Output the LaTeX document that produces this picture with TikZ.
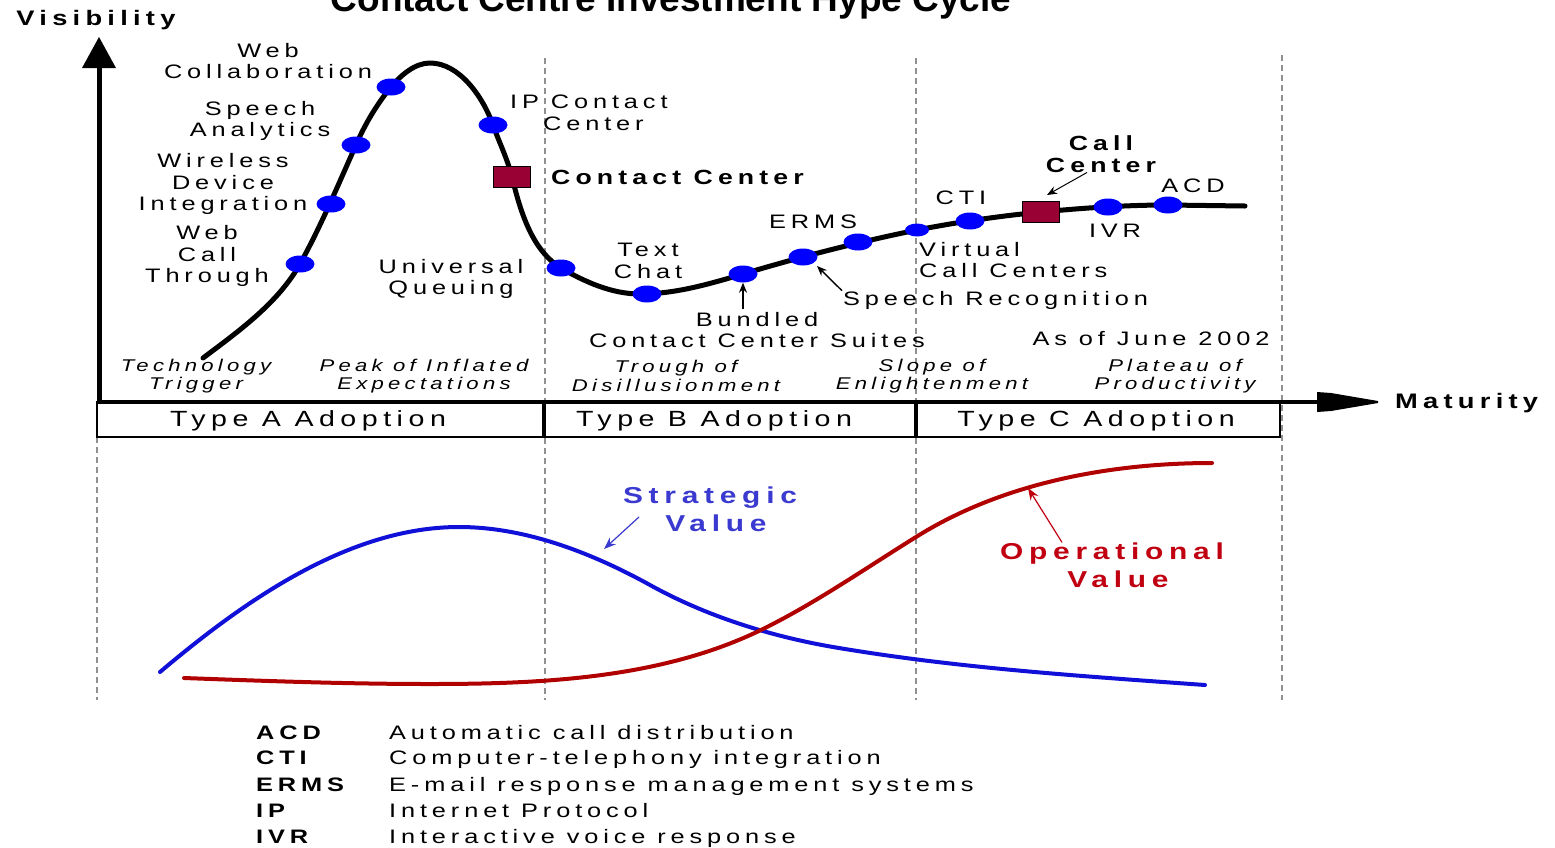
\documentclass[tikz,border=0pt]{standalone}
\usepackage{fontspec}
\setmainfont{Liberation Sans}[FakeStretch=1.3,LetterSpace=25]
\newfontfamily\titlefont{Liberation Sans}
\usetikzlibrary{shapes.geometric,arrows.meta}
\definecolor{dotblue}{HTML}{0000FF}
\definecolor{sqmaroon}{HTML}{990033}
\definecolor{curveblue}{HTML}{1010D8}
\definecolor{curvered}{HTML}{B00000}
\definecolor{stratblue}{HTML}{3A3AD0}
\definecolor{opred}{HTML}{C00010}
\definecolor{dashgray}{HTML}{909090}
\begin{document}
\begin{tikzpicture}[x=1pt,y=-1pt,
  lab/.style={inner sep=0pt, font=\fontsize{19.5}{21.5}\selectfont, align=center},
  blab/.style={inner sep=0pt, font=\bfseries\fontsize{20.5}{21.5}\selectfont, align=center},
  ilab/.style={inner sep=0pt, font=\itshape\fontsize{17}{18.5}\selectfont, align=center},
  tlab/.style={inner sep=0pt, font=\fontsize{22}{24}\selectfont},
  axlab/.style={inner sep=0pt, font=\bfseries\fontsize{21}{23}\selectfont},
  vlab/.style={inner sep=0pt, font=\bfseries\fontsize{23}{28}\selectfont, align=center},
  leglab/.style={inner sep=0pt, anchor=west, font=\fontsize{19.5}{21.5}\selectfont, text height=14pt, text depth=0pt},
  legabbr/.style={leglab, font=\bfseries\fontsize{19.5}{21.5}\selectfont},
  hdot/.style={ellipse, fill=dotblue, minimum width=29pt, minimum height=17pt, inner sep=0pt},
  hsq/.style={rectangle, fill=sqmaroon, draw=black, line width=1pt, minimum width=37pt, minimum height=21pt, inner sep=0pt},
  lblarrow/.style={-{Stealth[length=10pt,width=8pt]}, line width=1.4pt},
  gdash/.style={dashgray, line width=1.5pt, dash pattern=on 6pt off 4pt},
]
\useasboundingbox[fill=white] (0,0) rectangle (1555,847);

% title (cut at top, as in the reference)
\node[inner sep=0pt, anchor=base, font=\titlefont\bfseries\fontsize{37}{40}\selectfont] (title) at (671,11) {Contact Centre Investment Hype Cycle};

% dashed guides
\draw[gdash] (97,437) -- (97,700);
\draw[gdash] (545,58) -- (545,700);
\draw[gdash] (916,58) -- (916,700);
\draw[gdash] (1282,55) -- (1282,700);

% adoption boxes
\draw[line width=2pt] (97,402) rectangle (1280,437);
\draw[line width=4pt] (544,402) -- (544,437);
\draw[line width=4pt] (916,402) -- (916,437);
\node[tlab] (ta) at (308,421) {Type A Adoption};
\node[tlab] (tb) at (714,421) {Type B Adoption};
\node[tlab] (tcc) at (1096,421) {Type C Adoption};

% axes
\draw[line width=4pt] (97,402) -- (1320,402);
\fill (1317,392) -- (1331,393) -- (1378,401) -- (1378,403) -- (1331,411) -- (1317,412) -- cycle;
\draw[line width=5pt] (99,404) -- (99,64);
\fill (99,37) -- (116,68) -- (82,68) -- cycle;
\node[axlab] (vis) at (96,20) {Visibility};
\node[axlab, anchor=west] (mat) at (1395,403) {Maturity};

% hype curve
\draw[line width=5pt, line join=round, line cap=round]
  (203,358) .. controls (239,331) and (278,303) .. (300,264)
  .. controls (321,226) and (338,185) .. (356,145)
  .. controls (365,124) and (377,104) .. (391,87)
  .. controls (401,75) and (415,63) .. (430,63)
  .. controls (459.5,63) and (483,97) .. (493,125)
  .. controls (499,142) and (507.5,159) .. (512,177)
  .. controls (520,210) and (531.5,250) .. (561,268)
  .. controls (585,282) and (612,294) .. (640,294)
  .. controls (675,294) and (709.5,284) .. (743,274)
  .. controls (800,257) and (858,242) .. (917,230)
  .. controls (958,222) and (1000,216) .. (1041,212)
  .. controls (1083,208) and (1126,205) .. (1168,205)
  -- (1245,206);

% markers
\node[hdot] (d1) at (300,264) {};
\node[hdot] (d2) at (331,204) {};
\node[hdot] (d3) at (356,145) {};
\node[hdot] (d4) at (391,87) {};
\node[hdot] (d5) at (493,125) {};
\node[hsq] (s1) at (512,177) {};
\node[hdot] (d6) at (561,268) {};
\node[hdot] (d7) at (647,294) {};
\node[hdot] (bdot) at (743,274) {};
\node[hdot] (d9) at (803,257) {};
\node[hdot] (d10) at (858,242) {};
\node[hdot, minimum width=24pt, minimum height=13pt] (d11) at (917,230) {};
\node[hdot] (d12) at (970,221) {};
\node[hsq] (s2) at (1041,212) {};
\node[hdot] (d13) at (1108,207) {};
\node[hdot] (d14) at (1168,205) {};

% labels
\node[lab] (wc) at (268,61) {Web\\Collaboration};
\node[lab] (sa) at (260,121) {Speech\\Analytics};
\node[lab] (wdi) at (223,184) {Wireless\\Device\\Integration};
\node[lab] (wct) at (207,256) {Web\\Call\\Through};
\node[lab] (uq) at (451,279) {Universal\\Queuing};
\node[lab, anchor=west] (ip1) at (510,102) {IP Contact};
\node[lab, anchor=west] (ip2) at (543,124) {Center};
\node[blab, anchor=west] (cc) at (551,177) {Contact Center};
\node[lab] (tc) at (648,261) {Text\\Chat};
\node[lab] (erms) at (813,222) {ERMS};
\node[lab] (bcs) at (757,330) {Bundled\\Contact Center Suites};
\node[lab, anchor=west] (sr) at (843,300) {Speech Recognition};
\node[lab] (cti) at (961,198) {CTI};
\node[lab, anchor=west, align=left] (vcc) at (919,260) {Virtual\\Call Centers};
\node[blab] (callc) at (1101,154) {Call\\Center};
\node[lab] (acd) at (1193,186) {ACD};
\node[lab] (ivr) at (1115,231) {IVR};
\node[lab] (asof) at (1151,339) {As of June 2002};

\coordinate (bfrom) at (743,309);
\draw[lblarrow] (bfrom) -- (bdot);
\coordinate (srto) at (817,266);
\draw[lblarrow] ([xshift=-1pt]sr.north west) -- (srto);
\coordinate (cctip) at (1047,195);
\draw[lblarrow, line width=1pt] ([xshift=-14pt]callc.south) -- (cctip);

% phases
\node[ilab] (p1) at (196,376) {Technology\\Trigger};
\node[ilab] (p2) at (424,376) {Peak of Inflated\\Expectations};
\node[ilab] (p3) at (676,376) {Trough of\\Disillusionment};
\node[ilab] (p4) at (932,376) {Slope of\\Enlightenment};
\node[ilab] (p5) at (1175,376) {Plateau of\\Productivity};

% value curves
\draw[curveblue, line width=4pt, line cap=round]
  (160,672) .. controls (244,601) and (349,527) .. (459,527)
  .. controls (525.5,527) and (592,553) .. (650,585)
  .. controls (706,616) and (769.5,636) .. (833,647)
  .. controls (956,668) and (1080,676) .. (1205,685);
\draw[curvered, line width=4pt, line cap=round]
  (184,678) .. controls (266,681) and (348,684) .. (430,684)
  .. controls (543,684) and (664,678.5) .. (765,628)
  .. controls (817.6,601.7) and (866,568) .. (916,537)
  .. controls (1002,483) and (1110,463) .. (1212,463);

\node[vlab, text=stratblue] (sv) at (710,509) {Strategic\\\hspace*{12pt}Value};
\coordinate (svfrom) at (639,517);
\coordinate (svto) at (604,549);
\draw[stratblue, line width=1.2pt, -{Stealth[length=12pt,width=9pt]}] (svfrom) -- (svto);
\node[vlab, text=opred] (ov) at (1112,565) {Operational\\\hspace*{12pt}Value};
\coordinate (ovto) at (1028,488);
\draw[opred, line width=1.2pt, -{Stealth[length=12pt,width=9pt]}] ([xshift=-50pt]ov.north) -- (ovto);

% legend
\node[legabbr] (la1) at (256,732) {ACD};
\node[legabbr] (la2) at (256,757) {CTI};
\node[legabbr] (la3) at (256,784) {ERMS};
\node[legabbr] (la4) at (256,810) {IP};
\node[legabbr] (la5) at (256,836) {IVR};
\node[leglab] (lb1) at (389,732) {Automatic call distribution};
\node[leglab] (lb2) at (389,757) {Computer-telephony integration};
\node[leglab] (lb3) at (389,784) {E-mail response management systems};
\node[leglab] (lb4) at (389,810) {Internet Protocol};
\node[leglab] (lb5) at (389,836) {Interactive voice response};
\end{tikzpicture}
\end{document}
